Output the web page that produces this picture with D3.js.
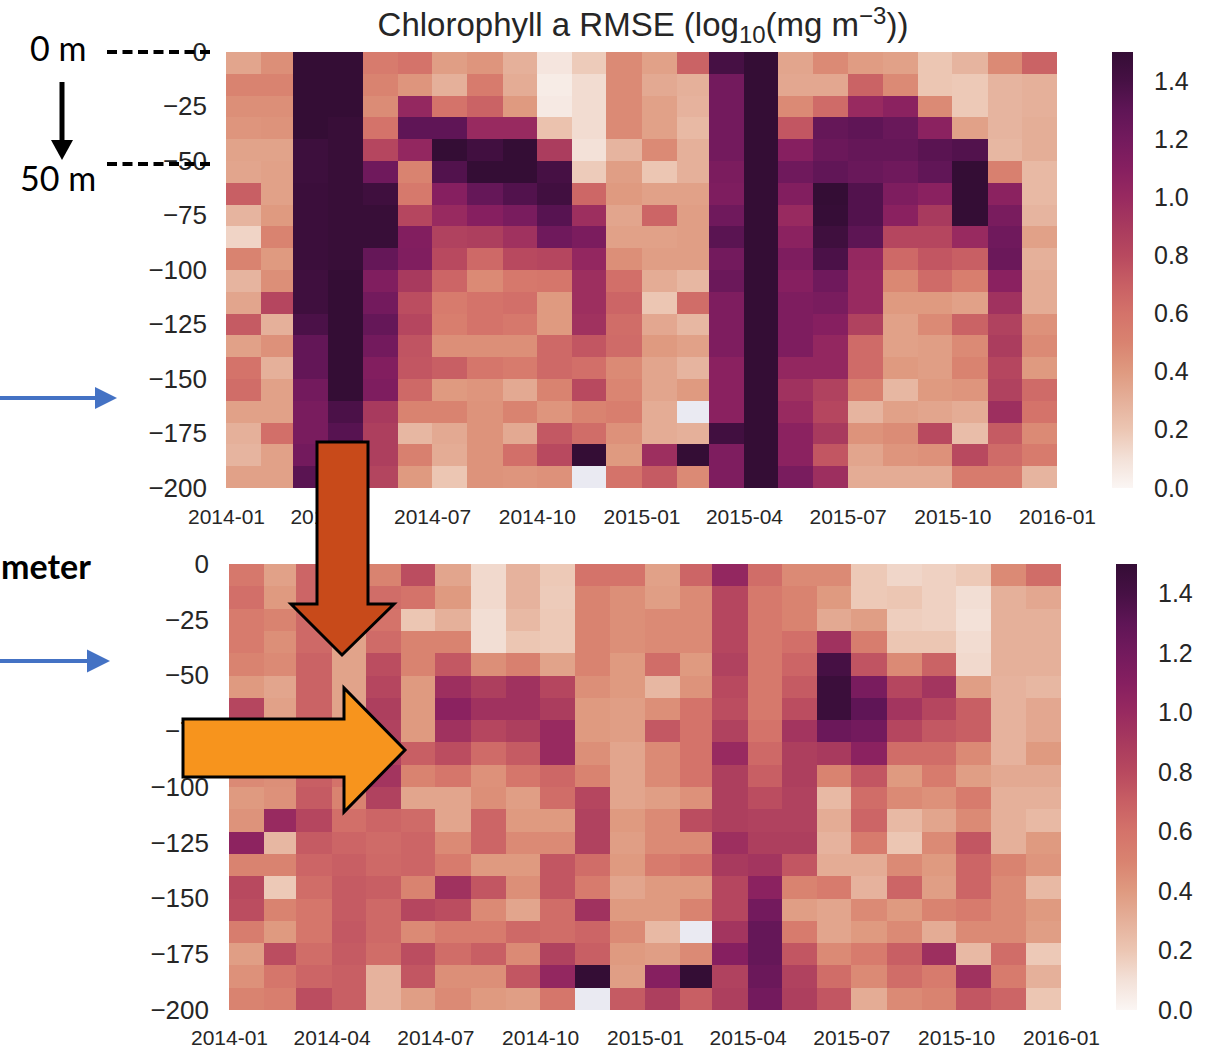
<!DOCTYPE html>
<html><head><meta charset="utf-8">
<script src="https://cdn.jsdelivr.net/npm/d3@7"></script>
<style>body{margin:0;background:#fff}svg{display:block}</style>
</head><body><svg id="chart" width="1218" height="1051"></svg>
<script>
// Monthly columns (2014-01 .. 2015-12) and 10 m depth bins (0 .. -200 m)
const monthStart = new Date(Date.UTC(2014, 0, 1));
const monthEnd = new Date(Date.UTC(2016, 0, 1));
const months = d3.utcMonth.range(monthStart, monthEnd);
const depthTops = [0,-10,-20,-30,-40,-50,-60,-70,-80,-90,-100,-110,-120,-130,-140,-150,-160,-170,-180,-190];
const binSize = 10;
const depthTicks = [0,-25,-50,-75,-100,-125,-150,-175,-200];
const colorTicks = [0,0.2,0.4,0.6,0.8,1.0,1.2,1.4];

// RMSE, one row per depth bin, one value per month (null = no data)
const rmseUpper = [
 [0.35,0.45,1.5,1.5,0.55,0.6,0.38,0.42,0.3,0.08,0.18,0.47, 0.37,0.68,1.4,1.5,0.35,0.47,0.39,0.37,0.2,0.28,0.47,0.68],
 [0.5,0.5,1.5,1.5,0.5,0.42,0.3,0.55,0.32,0.05,0.12,0.47, 0.33,0.3,1.2,1.5,0.34,0.34,0.68,0.47,0.2,0.19,0.28,0.3],
 [0.45,0.45,1.5,1.5,0.46,1.02,0.6,0.68,0.4,0.06,0.12,0.47, 0.37,0.29,1.2,1.5,0.47,0.64,1.0,1.07,0.47,0.19,0.28,0.3],
 [0.42,0.43,1.5,1.48,0.6,1.3,1.3,1.0,1.0,0.22,0.12,0.47, 0.37,0.26,1.2,1.5,0.74,1.27,1.3,1.25,1.07,0.37,0.28,0.31],
 [0.36,0.36,1.45,1.48,0.82,1.03,1.5,1.43,1.5,0.88,0.1,0.28, 0.47,0.3,1.2,1.5,1.1,1.24,1.27,1.27,1.32,1.35,0.27,0.31],
 [0.35,0.37,1.45,1.48,1.22,0.5,1.35,1.5,1.5,1.4,0.18,0.38, 0.2,0.3,1.16,1.5,1.22,1.29,1.25,1.22,1.29,1.5,0.52,0.26],
 [0.7,0.37,1.46,1.48,1.44,0.56,1.1,1.27,1.35,1.43,0.66,0.4, 0.37,0.37,1.14,1.5,1.12,1.5,1.35,1.14,1.08,1.5,1.07,0.26],
 [0.28,0.4,1.46,1.48,1.48,0.82,1.0,1.1,1.17,1.33,0.97,0.35, 0.67,0.38,1.22,1.5,1.0,1.49,1.35,1.08,0.9,1.5,1.17,0.28],
 [0.15,0.5,1.46,1.48,1.48,1.12,0.85,0.87,0.95,1.22,1.16,0.37, 0.37,0.38,1.32,1.5,1.07,1.44,1.31,0.82,0.82,1.0,1.22,0.37],
 [0.5,0.4,1.46,1.48,1.27,1.13,0.8,0.65,0.8,0.82,1.03,0.45, 0.38,0.38,1.2,1.5,1.14,1.38,1.02,0.65,0.74,0.7,1.24,0.3],
 [0.28,0.45,1.44,1.5,1.13,0.9,0.67,0.47,0.57,0.58,0.97,0.62, 0.32,0.27,1.24,1.5,1.1,1.22,1.0,0.48,0.64,0.53,1.08,0.32],
 [0.35,0.82,1.44,1.5,1.2,0.78,0.55,0.6,0.62,0.4,0.97,0.67, 0.2,0.63,1.14,1.5,1.14,1.17,1.0,0.4,0.4,0.37,0.95,0.32],
 [0.72,0.3,1.38,1.5,1.27,0.82,0.53,0.6,0.57,0.4,0.95,0.63, 0.34,0.27,1.14,1.5,1.14,1.1,0.85,0.37,0.47,0.68,0.85,0.44],
 [0.37,0.44,1.28,1.5,1.2,0.75,0.45,0.45,0.45,0.65,0.74,0.64, 0.4,0.37,1.14,1.5,1.14,1.03,0.64,0.37,0.38,0.47,0.88,0.47],
 [0.6,0.3,1.28,1.5,1.12,0.74,0.7,0.58,0.55,0.65,0.62,0.47, 0.35,0.28,1.08,1.5,1.03,1.03,0.64,0.4,0.38,0.5,0.82,0.4],
 [0.63,0.37,1.2,1.5,1.14,0.65,0.4,0.42,0.33,0.5,0.8,0.49, 0.35,0.4,1.08,1.5,0.95,0.85,0.52,0.27,0.4,0.42,0.85,0.64],
 [0.37,0.37,1.17,1.38,0.9,0.5,0.5,0.43,0.5,0.42,0.5,0.53, 0.32,null,1.08,1.5,1.0,0.82,0.28,0.37,0.35,0.32,0.97,0.6],
 [0.3,0.62,1.17,1.33,0.87,0.27,0.33,0.43,0.33,0.73,0.63,0.44, 0.32,0.3,1.43,1.5,1.07,0.9,0.43,0.46,0.8,0.24,0.72,0.47],
 [0.28,0.37,1.2,1.35,0.87,0.52,0.32,0.43,0.62,0.8,1.5,0.4, 0.97,1.5,1.14,1.5,1.07,0.74,0.35,0.42,0.44,0.8,0.64,0.55],
 [0.37,0.37,1.32,1.35,0.83,0.4,0.2,0.43,0.42,0.44,null,0.6, 0.72,0.47,1.14,1.5,1.17,0.97,0.32,0.32,0.32,0.55,0.55,0.28]
];

const rmseLower = [
 [0.57,0.37,0.67,0.6,0.5,0.78,0.35,0.13,0.29,0.19,0.6,0.6, 0.37,0.67,1.03,0.63,0.47,0.47,0.19,0.14,0.16,0.19,0.47,0.63],
 [0.62,0.4,0.67,0.6,0.63,0.6,0.4,0.13,0.29,0.18,0.5,0.45, 0.38,0.47,0.82,0.56,0.5,0.4,0.19,0.2,0.16,0.11,0.3,0.34],
 [0.55,0.5,0.65,0.6,0.6,0.2,0.3,0.11,0.26,0.19,0.5,0.45, 0.47,0.47,0.82,0.56,0.5,0.33,0.38,0.17,0.16,0.1,0.3,0.3],
 [0.55,0.45,0.65,0.36,0.64,0.5,0.5,0.11,0.2,0.19,0.5,0.45, 0.47,0.47,0.82,0.56,0.62,0.95,0.54,0.2,0.2,0.12,0.3,0.3],
 [0.5,0.47,0.68,0.36,0.78,0.5,0.73,0.45,0.52,0.36,0.5,0.4, 0.63,0.4,0.85,0.56,0.67,1.4,0.75,0.47,0.68,0.13,0.3,0.3],
 [0.4,0.35,0.68,0.36,0.82,0.4,0.97,0.87,0.95,0.82,0.45,0.4, 0.27,0.43,0.8,0.56,0.72,1.46,1.17,0.82,0.93,0.38,0.29,0.27],
 [0.82,0.37,0.68,0.36,0.87,0.4,1.07,0.95,0.95,0.88,0.4,0.38, 0.45,0.6,0.78,0.56,0.78,1.46,1.3,0.93,0.82,0.7,0.29,0.34],
 [0.55,0.45,0.68,0.5,0.85,0.4,0.95,0.82,0.87,1.0,0.4,0.38, 0.73,0.6,0.85,0.6,0.93,1.24,1.2,0.82,0.73,0.7,0.29,0.34],
 [0.6,0.45,0.68,0.55,0.85,0.7,0.78,0.64,0.72,1.0,0.45,0.35, 0.47,0.6,1.0,0.65,0.87,0.9,1.07,0.63,0.63,0.47,0.29,0.4],
 [0.47,0.45,0.7,0.6,0.93,0.5,0.58,0.44,0.58,0.66,0.5,0.35, 0.47,0.6,0.87,0.7,0.87,0.5,0.74,0.4,0.55,0.38,0.33,0.33],
 [0.4,0.44,0.72,0.5,0.85,0.35,0.35,0.45,0.38,0.63,0.82,0.35, 0.38,0.44,0.87,0.78,0.85,0.26,0.63,0.47,0.44,0.55,0.3,0.3],
 [0.43,1.0,0.82,0.62,0.67,0.64,0.35,0.67,0.4,0.4,0.85,0.4, 0.47,0.78,0.87,0.85,0.85,0.32,0.67,0.26,0.35,0.47,0.3,0.26],
 [1.06,0.27,0.72,0.67,0.64,0.67,0.47,0.67,0.47,0.47,0.85,0.38, 0.47,0.47,0.97,0.87,0.87,0.29,0.55,0.2,0.47,0.74,0.3,0.4],
 [0.5,0.5,0.67,0.7,0.65,0.67,0.55,0.4,0.4,0.74,0.63,0.4, 0.55,0.6,0.9,0.93,0.74,0.32,0.32,0.47,0.4,0.67,0.5,0.42],
 [0.8,0.19,0.63,0.72,0.7,0.5,0.95,0.74,0.45,0.74,0.55,0.35, 0.4,0.4,0.82,1.07,0.5,0.55,0.29,0.67,0.38,0.67,0.47,0.26],
 [0.78,0.5,0.58,0.72,0.65,0.82,0.78,0.47,0.35,0.63,0.95,0.4, 0.4,0.5,0.82,1.2,0.38,0.35,0.47,0.4,0.5,0.55,0.47,0.4],
 [0.54,0.4,0.58,0.73,0.65,0.47,0.55,0.55,0.65,0.63,0.67,0.47, 0.26,null,0.93,1.27,0.55,0.35,0.4,0.47,0.32,0.47,0.47,0.38],
 [0.38,0.78,0.63,0.72,0.63,0.78,0.63,0.7,0.47,0.85,0.7,0.4, 0.38,0.47,1.1,1.27,0.74,0.47,0.55,0.7,0.97,0.26,0.63,0.19],
 [0.44,0.58,0.67,0.7,0.29,0.74,0.45,0.45,0.74,1.03,1.5,0.38, 1.1,1.5,0.85,1.24,0.85,0.63,0.47,0.63,0.55,0.95,0.55,0.3],
 [0.5,0.53,0.78,0.7,0.29,0.38,0.47,0.4,0.38,0.58,null,0.72, 0.87,0.7,0.87,1.2,0.87,0.74,0.32,0.47,0.5,0.74,0.67,0.2]
];

// Sequential colormap: near-white -> salmon -> magenta -> dark purple
const cStops = [0,0.1,0.2,0.3,0.4,0.5,0.6,0.7,0.8,0.9,1.0,1.1,1.2,1.3,1.4,1.5];
const cColors = ["#fbf6f4","#f3e1d8","#ecc6b3","#e5b09a","#df9a80","#d98370","#d4736a","#c85f64",
                 "#b8495f","#a83a5e","#982a60","#861f60","#731a5d","#5f1556","#461044","#340d35"];
const color = d3.scaleLinear().domain(cStops).range(cColors).interpolate(d3.interpolateRgb).clamp(true);
const nanColor = "#eaeaf2";
const vmax = 1.5;

const svg = d3.select("#chart");
const font = "'Liberation Sans', Arial, Helvetica, sans-serif";
const textCol = "#262626";

// gradient for the colorbars
const defs = svg.append("defs");
const grad = defs.append("linearGradient").attr("id", "cbar")
  .attr("x1", 0).attr("y1", 1).attr("x2", 0).attr("y2", 0);
cStops.forEach((s, i) => grad.append("stop").attr("offset", s / vmax).attr("stop-color", cColors[i]));

function panel(data, box) {
  const g = svg.append("g");
  const x = d3.scaleUtc().domain([monthStart, monthEnd]).range([box.x0, box.x1]);
  const y = d3.scaleLinear().domain([0, -200]).range([box.y0, box.y1]);

  const cells = [];
  data.forEach((row, r) => row.forEach((v, c) => cells.push({r, c, v})));
  g.append("g").attr("shape-rendering", "crispEdges")
    .selectAll("rect").data(cells).join("rect")
    .attr("x", d => x(months[d.c]))
    .attr("width", d => x(d3.utcMonth.offset(months[d.c], 1)) - x(months[d.c]))
    .attr("y", d => y(depthTops[d.r]))
    .attr("height", d => y(depthTops[d.r] - binSize) - y(depthTops[d.r]))
    .attr("fill", d => d.v == null ? nanColor : color(d.v));

  // x axis (dates)
  const xa = g.append("g").attr("transform", `translate(0,${box.y1})`)
    .call(d3.axisBottom(x).ticks(d3.utcMonth.every(3)).tickFormat(d3.utcFormat("%Y-%m"))
      .tickSize(0).tickPadding(box.xPad));
  xa.select(".domain").remove();
  xa.selectAll("text").attr("font-family", font).attr("font-size", 21).attr("fill", textCol);

  // y axis (depth)
  const ya = g.append("g").attr("transform", `translate(${box.x0},0)`)
    .call(d3.axisLeft(y).tickValues(depthTicks).tickSize(0).tickPadding(box.yPad));
  ya.select(".domain").remove();
  ya.selectAll("text").attr("font-family", font).attr("font-size", 26).attr("fill", textCol);

  // colorbar
  const cy = d3.scaleLinear().domain([0, vmax]).range([box.y1, box.y0]);
  g.append("rect").attr("x", box.cbx).attr("y", box.y0).attr("width", 21)
    .attr("height", box.y1 - box.y0).attr("fill", "url(#cbar)");
  const ca = g.append("g").attr("transform", `translate(${box.cbx + 21},0)`)
    .call(d3.axisRight(cy).tickValues(colorTicks).tickFormat(d3.format(".1f")).tickSize(0).tickPadding(21));
  ca.select(".domain").remove();
  ca.selectAll("text").attr("font-family", font).attr("font-size", 25).attr("fill", textCol);
}

panel(rmseUpper, {x0: 226, x1: 1057, y0: 52, y1: 488, cbx: 1112, xPad: 21, yPad: 19});
panel(rmseLower, {x0: 229, x1: 1061, y0: 564, y1: 1010, cbx: 1116, xPad: 20, yPad: 20});

// title with subscript and superscript
const title = svg.append("text").attr("x", 643).attr("y", 36).attr("text-anchor", "middle")
  .attr("font-family", font).attr("font-size", 33).attr("fill", textCol);
title.append("tspan").text("Chlorophyll a RMSE (log");
title.append("tspan").attr("dy", 7).attr("font-size", 24).text("10");
title.append("tspan").attr("dy", -7).text("(mg m");
title.append("tspan").attr("dy", -12).attr("font-size", 24).text("\u22123");
title.append("tspan").attr("dy", 12).text("))");

// depth markers on the left
const ann = svg.append("g");
const annFont = "Lato, 'Open Sans', sans-serif";
ann.append("text").attr("x", 30).attr("y", 61).attr("font-family", annFont).attr("font-size", 34).attr("fill", "#000").text("0 m");
ann.append("text").attr("x", 20).attr("y", 191).attr("font-family", annFont).attr("font-size", 34).attr("fill", "#000").text("50 m");
[52, 164].forEach(yy => ann.append("line").attr("x1", 107).attr("x2", 215).attr("y1", yy).attr("y2", yy)
  .attr("stroke", "#000").attr("stroke-width", 4).attr("stroke-dasharray", "10,5.5"));
ann.append("line").attr("x1", 62).attr("x2", 62).attr("y1", 82).attr("y2", 142).attr("stroke", "#000").attr("stroke-width", 5);
ann.append("polygon").attr("points", "51,140 73,140 62,160").attr("fill", "#000");

ann.append("text").attr("x", 1).attr("y", 579).attr("text-anchor", "start")
  .attr("font-family", annFont).attr("font-weight", "bold").attr("font-size", 34).attr("fill", "#000").text("meter");

// blue pointers
const blue = "#4472c4";
[[398, 95, 117, 11], [661, 87, 110, 11.5]].forEach(([yy, hx, tip, hh]) => {
  ann.append("line").attr("x1", 0).attr("x2", hx + 2).attr("y1", yy).attr("y2", yy).attr("stroke", blue).attr("stroke-width", 4);
  ann.append("polygon").attr("points", `${hx},${yy - hh} ${tip},${yy} ${hx},${yy + hh}`).attr("fill", blue);
});

// block arrows
ann.append("polygon")
  .attr("points", "317,442 368,442 368,604 394,604 342,655 291,604 317,604")
  .attr("fill", "#c84a1a").attr("stroke", "#000").attr("stroke-width", 3).attr("stroke-linejoin", "miter");
ann.append("polygon")
  .attr("points", "183,719 344,719 344,688 405,750 344,812 344,777 183,777")
  .attr("fill", "#f7941d").attr("stroke", "#000").attr("stroke-width", 3).attr("stroke-linejoin", "miter");
</script></body></html>
